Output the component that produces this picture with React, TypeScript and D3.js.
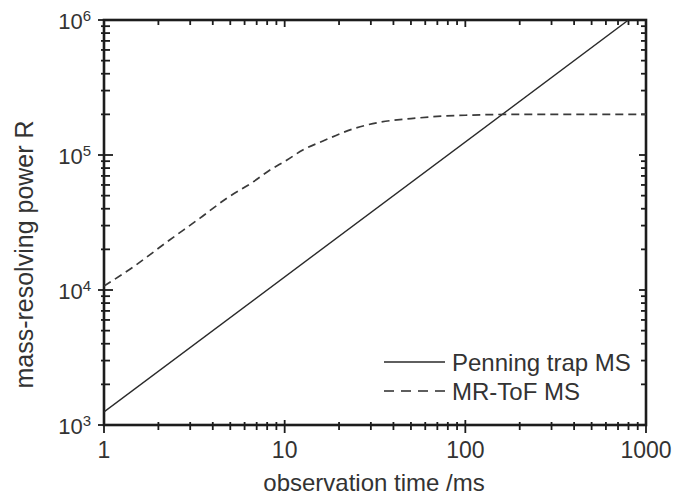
import React from 'react';
import * as d3 from 'd3';

// observation time in ms, resolving power
const penningTime = [1, 800];
const penningR = [1250, 1.0e6];

const mrtofTime = [1, 1.45, 2.23, 3.4, 4.8, 6.68, 8.29, 10.3, 12.6, 16.3, 23.9, 33.7, 50, 70, 100, 200, 400, 1000];
const mrtofR = [1.07e4, 1.48e4, 2.27e4, 3.41e4, 4.8e4, 6.31e4, 7.74e4, 9.18e4, 1.09e5, 1.27e5, 1.56e5, 1.75e5, 1.86e5, 1.93e5, 1.97e5, 2.0e5, 2.0e5, 2.0e5];

const xTickLabels = [1, 10, 100, 1000];
const yTickExponents = [3, 4, 5, 6];

const legendItems = ['Penning trap MS', 'MR-ToF MS'];

const W = 673;
const H = 498;
const margin = { top: 20, right: 27, bottom: 73, left: 104 };

const textColor = '#333';
const axisColor = '#1c1c1c';
const font = '"Liberation Sans", Arial, Helvetica, sans-serif';

export default function App() {
  const x = d3.scaleLog().domain([1, 1000]).range([margin.left, W - margin.right]);
  const y = d3.scaleLog().domain([1e3, 1e6]).range([H - margin.bottom, margin.top]);
  const x0 = x.range()[0], x1 = x.range()[1];
  const y0 = y.range()[0], y1 = y.range()[1];

  const line = d3.line<[number, number]>()
    .x(d => x(d[0]))
    .y(d => y(d[1]));
  const smooth = d3.line<[number, number]>()
    .x(d => x(d[0]))
    .y(d => y(d[1]))
    .curve(d3.curveMonotoneX);

  const penning = penningTime.map((t, i) => [t, penningR[i]] as [number, number]);
  const mrtof = mrtofTime.map((t, i) => [t, mrtofR[i]] as [number, number]);

  const xTicks = x.ticks();
  const yTicks = y.ticks();
  const isMajor = (v: number) => Math.abs(Math.log10(v) - Math.round(Math.log10(v))) < 1e-9;

  return (
    <svg width={W} height={H} style={{ position: 'absolute', left: 0, top: 0, background: '#fff' }}
      fontFamily={font}>
      <defs>
        <clipPath id="plot">
          <rect x={x0} y={y1} width={x1 - x0} height={y0 - y1} />
        </clipPath>
      </defs>

      {/* bottom + top ticks */}
      {xTicks.map((v, i) => {
        const major = isMajor(v);
        return (
          <g key={'xt' + i} stroke={axisColor} strokeWidth={1.8}>
            <line x1={x(v)} x2={x(v)} y1={y0 - (major ? 5 : 3)} y2={y0 + (major ? 8 : 5)} />
            <line x1={x(v)} x2={x(v)} y1={y1} y2={y1 + (major ? 7 : 5)} />
          </g>
        );
      })}
      {/* left + right ticks */}
      {yTicks.map((v, i) => {
        const major = isMajor(v);
        return (
          <g key={'yt' + i} stroke={axisColor} strokeWidth={1.8}>
            <line x1={x0 - (major ? 6 : 3)} x2={x0 + (major ? 9 : 6)} y1={y(v)} y2={y(v)} />
            <line x1={x1 - (major ? 7 : 5)} x2={x1} y1={y(v)} y2={y(v)} />
          </g>
        );
      })}

      {/* frame */}
      <rect x={x0} y={y1} width={x1 - x0} height={y0 - y1} fill="none" stroke={axisColor} strokeWidth={2.6} />

      {/* x tick labels */}
      {xTickLabels.map(v => (
        <text key={'xl' + v} x={x(v)} y={y0 + 33} textAnchor="middle" fontSize={23} fill={textColor}>{v}</text>
      ))}
      {/* y tick labels */}
      {yTickExponents.map(e => (
        <text key={'yl' + e} x={x0 - 13} y={y(Math.pow(10, e)) + 8.5} textAnchor="end" fontSize={22} fill={textColor}>
          10<tspan fontSize={15} dy={-8}>{e}</tspan>
        </text>
      ))}

      {/* data */}
      <g clipPath="url(#plot)" fill="none">
        <path d={line(penning) || ''} stroke="#2a2a2a" strokeWidth={1.4} />
        <path d={smooth(mrtof) || ''} stroke="#3a3a3a" strokeWidth={1.7} strokeDasharray="8,5" />
      </g>

      {/* legend */}
      {legendItems.map((name, i) => (
        <g key={name}>
          <line x1={384} x2={445} y1={362 + i * 29} y2={362 + i * 29}
            stroke="#2a2a2a" strokeWidth={i ? 1.7 : 1.4} strokeDasharray={i ? '10,7' : undefined} />
          <text x={452} y={371 + i * 29} fontSize={24} fill={textColor}>{name}</text>
        </g>
      ))}

      {/* axis titles */}
      <text x={(x0 + x1) / 2 - 1} y={491} textAnchor="middle" fontSize={24} fill={textColor}>observation time /ms</text>
      <text transform={`translate(33,${(y0 + y1) / 2 + 32}) rotate(-90)`} textAnchor="middle" fontSize={25} fill={textColor}>
        mass-resolving power R
      </text>
    </svg>
  );
}
